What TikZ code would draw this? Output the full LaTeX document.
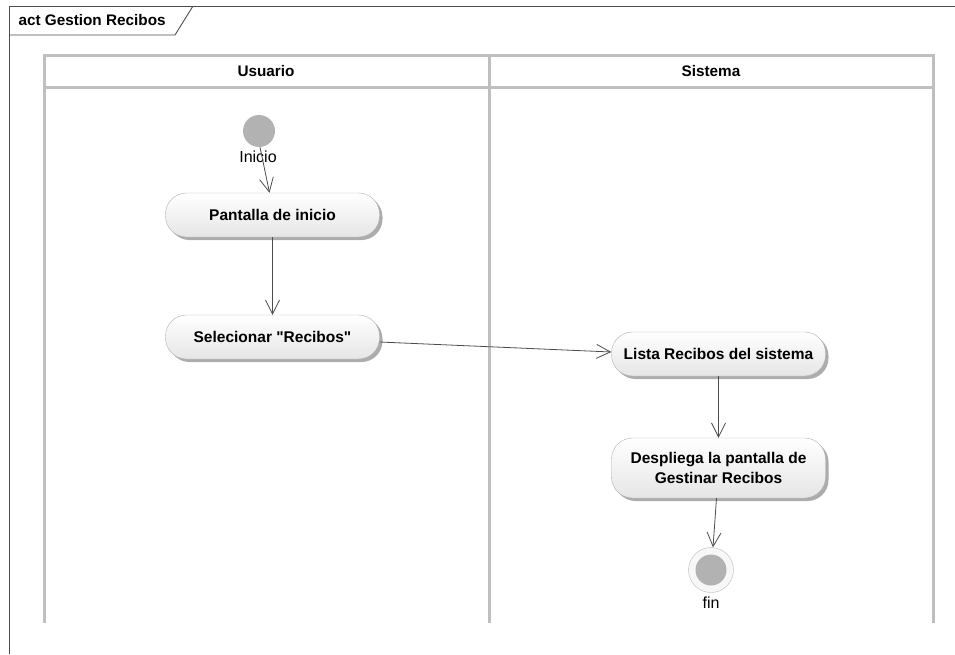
\documentclass[tikz,border=0pt]{standalone}
\usepackage{fontspec}
\setmainfont{Liberation Sans}
\usetikzlibrary{arrows.meta,positioning,shadows}

\begin{document}
\begin{tikzpicture}[
  x=1pt, y=-1pt,
  frame/.style={draw=black!70, line width=0.9pt},
  lane/.style={draw=gray!50, line width=3pt},
  lanetitle/.style={font=\bfseries\fontsize{15.3}{18}\selectfont},
  action/.style={rectangle, rounded corners=21pt, draw=gray!60, top color=white, bottom color=gray!20,
    minimum width=214pt, minimum height=44pt, align=center, font=\bfseries\fontsize{15.5}{20.5}\selectfont,
    drop shadow={shadow xshift=3pt, shadow yshift=-3pt, fill=gray!65, opacity=1}},
  initial/.style={circle, fill=gray!60, minimum size=32pt, inner sep=0pt},
  final/.style={circle, draw=gray!55, fill=gray!6, minimum size=45pt, inner sep=0pt},
  caption/.style={font=\fontsize{16}{18}\selectfont, inner sep=1pt},
  arr/.style={draw=black!70, line width=0.8pt, -{Straight Barb[length=14pt, width=14pt, line width=0.8pt]}}
]
  \useasboundingbox (0,0) rectangle (955,654);

  % frame and tab
  \draw[frame] (955,6) -- (9,6) -- (9,654);
  \draw[frame] (9,35) -- (175,35) -- (193,6);
  \node[anchor=west, font=\bfseries\fontsize{15.3}{18}\selectfont] (title) at (15,20) {act Gestion Recibos};

  % swimlanes
  \draw[lane] (44,623) -- (44,55) -- (933,55) -- (933,623);
  \draw[lane] (489,55) -- (489,623);
  \draw[lane] (44,87) -- (933,87);
  \node[lanetitle] (usuario) at (266,71) {Usuario};
  \node[lanetitle] (sistema) at (711,71) {Sistema};

  % nodes
  \node[initial] (inicio) at (259,131) {};
  \node[caption] (lblinicio) at (258,157) {Inicio};
  \node[action] (pantalla) at (272.5,215) {Pantalla de inicio};
  \node[action] (selec) at (272.5,337) {Selecionar \textquotedbl Recibos\textquotedbl};
  \node[action] (lista) at (718.5,354) {Lista Recibos del sistema};
  \node[action, minimum height=60pt] (despliega) at (718.5,468) {Despliega la pantalla de\\Gestinar Recibos};
  \node[final] (fin) at (711,570) {};
  \node[circle, fill=gray!60, minimum size=31pt, inner sep=0pt] (findot) at (fin) {};
  \node[caption] (lblfin) at (711,603) {fin};

  % flows
  \draw[arr] ([xshift=1pt]inicio.south) -- ([xshift=-3pt]pantalla.north);
  \draw[arr] (pantalla) -- (selec);
  \draw[arr] ([yshift=-5pt]selec.east) -- ([yshift=2pt]lista.west);
  \draw[arr] (lista) -- (despliega);
  \draw[arr] ([xshift=-2pt]despliega.south) -- ([xshift=2pt]fin.north);
\end{tikzpicture}
\end{document}
